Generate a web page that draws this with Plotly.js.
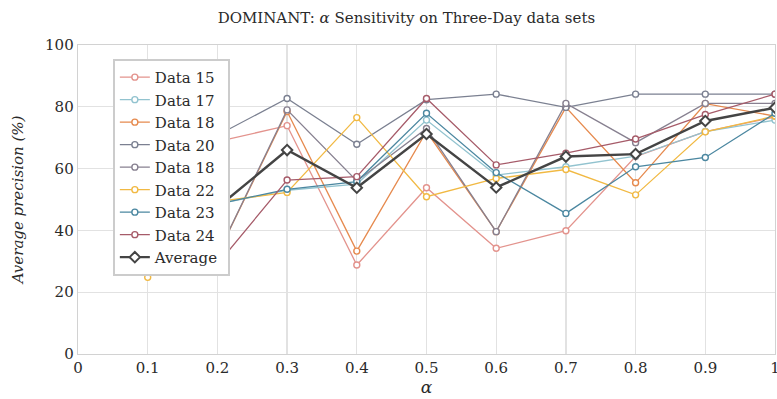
<!DOCTYPE html>
<html>
<head>
<meta charset="utf-8">
<script src="https://cdn.plot.ly/plotly-3.0.1.min.js"></script>
<style>html,body{margin:0;padding:0;background:#fff;}#chart{width:777px;height:399px;}</style>
</head>
<body>
<div id="chart"></div>
<script>
const alpha = [0.1, 0.2, 0.3, 0.4, 0.5, 0.6, 0.7, 0.8, 0.9, 1.0];
const data15 = [60, 68.7, 73.9, 28.8, 53.8, 34.2, 39.9, 63.9, 72.0, 76.7];
const data17 = [45, 48.5, 53.0, 55.0, 75.7, 57.9, 60.6, 64.0, 72.0, 75.7];
const data18 = [35, 32.1, 78.5, 33.3, 72.0, 39.6, 79.8, 55.4, 81.0, 77.0];
const data20 = [65, 70.8, 82.7, 67.9, 82.3, 84.1, 79.8, 84.1, 84.1, 84.1];
const data18b = [35, 32.1, 79.0, 56.0, 73.0, 39.6, 81.1, 68.4, 81.1, 81.1];
const data22 = [24.8, 49.3, 52.3, 76.5, 50.9, 56.8, 59.7, 51.5, 71.9, 77.0];
const data23 = [45, 48.5, 53.3, 55.8, 77.9, 58.7, 45.5, 60.6, 63.6, 77.9];
const data24 = [30, 29.0, 56.3, 57.4, 82.7, 61.2, 65.0, 69.6, 77.5, 84.1];
const average = [42.5, 47.4, 66.0, 53.8, 71.2, 53.9, 63.9, 64.7, 75.4, 79.7];

const names = ['Data 15', 'Data 17', 'Data 18', 'Data 20', 'Data 18', 'Data 22', 'Data 23', 'Data 24'];
const series = [data15, data17, data18, data20, data18b, data22, data23, data24];
const colors = ['#e3938d', '#92c3cf', '#e68a4e', '#7b8091', '#878090', '#f1b943', '#4b87a0', '#a65b69'];

const traces = series.map((ys, i) => ({
  x: alpha, y: ys, name: names[i] + '&nbsp;', type: 'scatter', mode: 'lines+markers',
  line: {color: colors[i], width: 1.3},
  marker: {symbol: 'circle', size: 6, color: '#ffffff', line: {color: colors[i], width: 1.4}}
}));
traces.push({
  x: alpha, y: average, name: 'Average&nbsp;', type: 'scatter', mode: 'lines+markers',
  line: {color: '#444444', width: 2.4},
  marker: {symbol: 'diamond', size: 8, color: '#ffffff', line: {color: '#444444', width: 2}}
});

const font = 'DejaVu Serif';
const layout = {
  width: 777, height: 399,
  margin: {l: 78, r: 2, t: 45, b: 45},
  paper_bgcolor: '#ffffff', plot_bgcolor: '#ffffff',
  font: {family: font, size: 15, color: '#2a2a2a'},
  title: {text: 'DOMINANT: <i>α</i> Sensitivity on Three-Day data sets', x: 0.523, xanchor: 'center', y: 0.955, yanchor: 'middle', font: {family: font, size: 15, color: '#2a2a2a'}},
  xaxis: {
    range: [0, 1], tickvals: [0,0.1,0.2,0.3,0.4,0.5,0.6,0.7,0.8,0.9,1], ticktext: ['0','0.1','0.2','0.3','0.4','0.5','0.6','0.7','0.8','0.9','1'],
    showgrid: true, gridcolor: '#e2e2e2', gridwidth: 1.3, zeroline: false,
    showline: true, linecolor: '#d2d2d2', linewidth: 1.3, mirror: true,
    ticks: '', ticklabeloverflow: 'allow', tickfont: {family: font, size: 15, color: '#2a2a2a'},
    title: {text: '<i>α</i>', font: {family: font, size: 17, color: '#2a2a2a'}, standoff: 2}
  },
  yaxis: {
    range: [0, 100], tickvals: [0,20,40,60,80,100],
    showgrid: true, gridcolor: '#e2e2e2', gridwidth: 1.3, zeroline: false,
    showline: true, linecolor: '#d2d2d2', linewidth: 1.3, mirror: true,
    ticks: '', tickfont: {family: font, size: 15, color: '#2a2a2a'},
    title: {text: '<i>Average precision (%)</i>', font: {family: font, size: 15, color: '#2a2a2a'}, standoff: 17}
  },
  legend: {
    x: 0.05, y: 0.955, xanchor: 'left', yanchor: 'top',
    bgcolor: '#ffffff', bordercolor: '#cccccc', borderwidth: 2,
    font: {family: font, size: 15, color: '#2a2a2a'},
    itemwidth: 30, tracegroupgap: 0
  },
  showlegend: true
};
Plotly.newPlot('chart', traces, layout, {displayModeBar: false, staticPlot: true});
</script>
</body>
</html>
